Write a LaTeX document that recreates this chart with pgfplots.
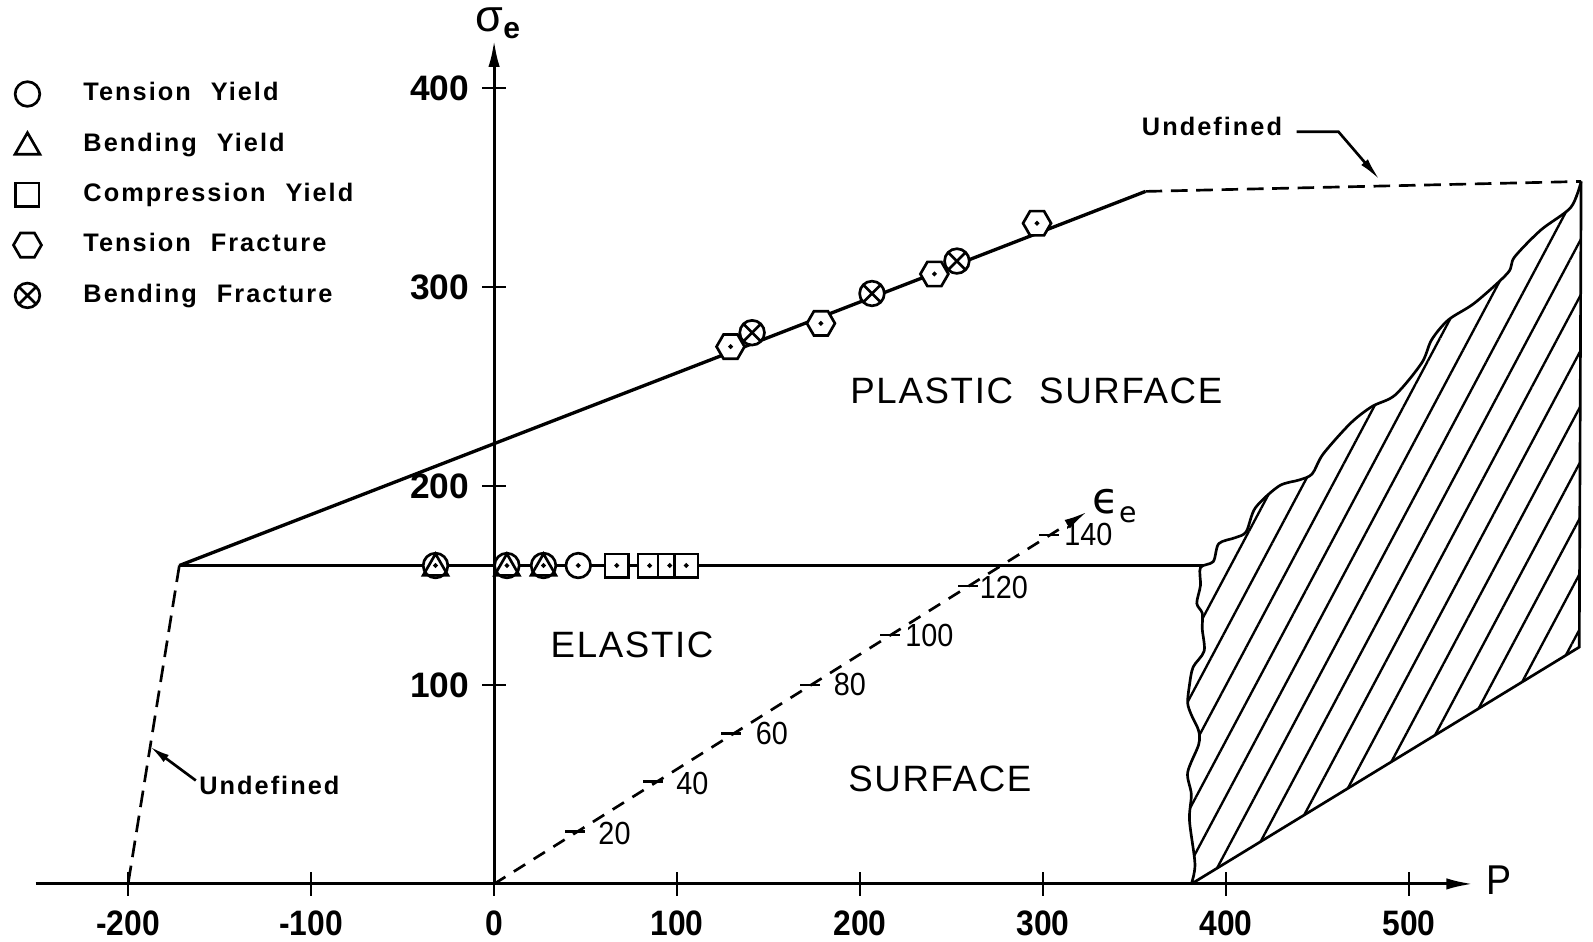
\documentclass[border=0pt]{standalone}
\usepackage{pgfplots}
\pgfplotsset{compat=1.18}
\usepackage{fontspec}
\setmainfont{Liberation Sans}
\newfontfamily\tickfont{Liberation Sans}[FakeStretch=0.9]
\newfontfamily\numfont{Liberation Sans}[FakeStretch=0.9]
\newfontfamily\labfont{Liberation Sans}[LetterSpace=8, WordSpace=2.2]
\newfontfamily\regfont{Liberation Sans}[LetterSpace=4.5, WordSpace=2.2]
\newfontfamily\dejavu{DejaVu Sans}
\usetikzlibrary{arrows.meta, patterns.meta, plotmarks}
\pgfdeclareplotmark{hexagon*}{%
  \pgfpathmoveto{\pgfpointpolar{0}{\pgfplotmarksize}}%
  \pgfpathlineto{\pgfpointpolar{60}{\pgfplotmarksize}}%
  \pgfpathlineto{\pgfpointpolar{120}{\pgfplotmarksize}}%
  \pgfpathlineto{\pgfpointpolar{180}{\pgfplotmarksize}}%
  \pgfpathlineto{\pgfpointpolar{240}{\pgfplotmarksize}}%
  \pgfpathlineto{\pgfpointpolar{300}{\pgfplotmarksize}}%
  \pgfpathclose
  \pgfusepathqfillstroke}
\tikzset{snum/.style={font=\numfont\fontsize{9.6}{11}\selectfont}}
\begin{document}
\begin{tikzpicture}
\begin{axis}[
  x=0.549pt, y=0.597pt,
  xmin=-250.5, xmax=535, ymin=0, ymax=424,
  axis lines=center, clip=false,
  axis line style={line width=0.9pt, -{Latex[length=8pt,width=3.4pt]}},
  xtick={-200,-100,0,100,200,300,400,500},
  xticklabels={-200,-100,0,100,200,300,400,500},
  ytick={100,200,300,400},
  yticklabels={100,200,300,400},
  hide obscured x ticks=false,
  tick align=center,
  major tick length=7pt,
  tick style={line width=0.8pt, black},
  xticklabel style={font=\tickfont\bfseries\fontsize{10.6}{12}\selectfont, yshift=-0.9pt},
  yticklabel style={font=\bfseries\fontsize{10.6}{12}\selectfont, xshift=-0.5pt},
  legend style={at={(axis cs:-263,406.5)}, anchor=north west, draw=none, fill=none,
    inner sep=0pt, row sep=4.1pt,
    font=\labfont\bfseries\fontsize{7.6}{9}\selectfont,
    /tikz/every odd column/.append style={column sep=10.6pt}},
  legend cell align=left,
]
% boundary lines
\addplot[line width=1pt, forget plot] coordinates {(-172,160) (356,348)};
\addplot[line width=0.8pt, forget plot] coordinates {(-172,160) (388,160)};
\addplot[line width=0.8pt, dash pattern=on 5pt off 2.6pt, forget plot] coordinates {(-172,160) (-200,0)};
\addplot[line width=0.8pt, dash pattern=on 5pt off 2.6pt, forget plot] coordinates {(356,348) (594,353)};
% strain line
\addplot[line width=0.8pt, dash pattern=on 4pt off 3pt, -{Latex[length=7pt,width=3pt]}, forget plot] coordinates {(0,0) (324,187)};
\addplot[only marks, mark=-, mark size=3pt, mark options={line width=0.8pt, solid}, forget plot] coordinates {
 (44,26.3) (86.6,51.4) (129.2,75.7) (172.7,100) (216.1,125.1) (258.7,149.7) (303,175.4)};
% hatched region
\addplot[draw=none, pattern={Lines[angle=62,distance=7.8pt,line width=0.7pt]}, forget plot] coordinates {
 (381,0) (593,119) (594,353) (588.4,340) (572,328.6) (557.6,315) (553.9,307) (535.9,292) (521.4,283.4)
 (512.3,273.4) (506.9,261.8) (492.4,245.7) (479.7,239.9) (468,231.5) (453,216) (447,206) (440,203)
 (429,200) (416,189) (411,177) (405,174) (396,171) (393,162) (386,159) (386,150) (384,141) (387,136)
 (387,128) (388,117) (382,109) (380,100) (379,91) (381,85) (385,77) (385,70) (379,56) (381,45)
 (380,32) (383,10)} -- cycle;
\addplot[line width=0.8pt, forget plot] coordinates {(381,0) (593,119) (594,353)};
\addplot[line width=0.8pt, smooth, tension=0.5, forget plot] coordinates {
 (381,0) (383,10) (380,32) (381,45) (379,56) (385,70) (385,77) (381,85) (379,91) (380,100) (382,109)
 (388,117) (387,128) (387,136) (384,141) (386,150) (386,159) (393,162) (396,171) (405,174) (411,177)
 (416,189) (429,200) (440,203) (447,206) (453,216) (468,231.5) (479.7,239.9) (492.4,245.7)
 (506.9,261.8) (512.3,273.4) (521.4,283.4) (535.9,292) (553.9,307) (557.6,315) (572,328.6)
 (588.4,340) (594,353)};
% data points
\addplot[only marks, mark=*, mark size=3.7pt, mark options={fill=white, draw=black, line width=0.8pt}]
 coordinates {(-32,160) (7,160) (27,160) (46,160)};
\addlegendentry{Tension Yield}
\addplot[only marks, mark=triangle, mark size=4.3pt, mark options={draw=black, line width=0.8pt, yshift=-0.8pt}]
 coordinates {(-32,160) (7,160) (27,160)};
\addlegendentry{Bending Yield}
\addplot[only marks, mark=square*, mark size=3.5pt, mark options={fill=white, draw=black, line width=0.8pt}]
 coordinates {(67,160) (85,160) (96,160) (105,160)};
\addlegendentry{Compression Yield}
\addplot[only marks, mark=hexagon*, mark size=4.2pt, mark options={fill=white, draw=black, line width=0.8pt}]
 coordinates {(129.2,270) (178.6,281.7) (240.6,306.5) (296.7,332)};
\addlegendentry{Tension Fracture}
\addplot[only marks, mark=otimes*, mark size=3.7pt, mark options={fill=white, draw=black, line width=0.8pt}]
 coordinates {(141,277) (206.5,296.7) (252.9,313)};
\addlegendentry{Bending Fracture}
\addplot[only marks, mark=*, mark size=0.5pt, forget plot] coordinates {
 (-32,160) (7,160) (27,160) (46,160) (67,160) (85,160) (96,160) (105,160)
 (129.2,270) (178.6,281.7) (240.6,306.5) (296.7,332)};
% labels
\node[font=\fontsize{13.5}{15}\selectfont] at (axis cs:2,432.5) {σ\raisebox{-0.3ex}{\bfseries\fontsize{9}{10}\selectfont e}};
\node[font=\tickfont\fontsize{12.5}{14}\selectfont] at (axis cs:549,2) {P};
\node[font=\dejavu\fontsize{13}{15}\selectfont] at (axis cs:339,190) {ϵ\raisebox{-0.4ex}{\fontsize{8.5}{10}\selectfont e}};
\node[font=\regfont\fontsize{11}{13}\selectfont] at (axis cs:296.3,247.6) {PLASTIC SURFACE};
\node[font=\regfont\fontsize{11}{13}\selectfont] at (axis cs:75.4,120) {ELASTIC};
\node[font=\regfont\fontsize{11}{13}\selectfont] at (axis cs:243.6,52.6) {SURFACE};
\node[font=\labfont\bfseries\fontsize{7.6}{9}\selectfont] at (axis cs:-122.8,49.5) {Undefined};
\node[font=\labfont\bfseries\fontsize{7.6}{9}\selectfont] at (axis cs:392.3,380.4) {Undefined};
\draw[line width=0.8pt, -{Latex[length=6pt,width=2.6pt]}] (axis cs:-163,52) -- (axis cs:-188,69);
\draw[line width=0.8pt, -{Latex[length=7pt,width=2.6pt]}] (axis cs:438.6,378) -- (axis cs:461.4,378) -- (axis cs:484,353.8);
\node[snum] at (axis cs:65.8,25.6) {20};
\node[snum] at (axis cs:108.3,50.6) {40};
\node[snum] at (axis cs:151.8,75.7) {60};
\node[snum] at (axis cs:194.4,100) {80};
\node[snum] at (axis cs:237.9,125) {100};
\node[snum] at (axis cs:278.6,149) {120};
\node[snum] at (axis cs:324.8,175.4) {140};
\coordinate (BBsw) at (axis cs:-270,-29.1);
\coordinate (BBne) at (axis cs:600.5,444.2);
\end{axis}
\pgfresetboundingbox
\useasboundingbox (BBsw) rectangle (BBne);
\end{tikzpicture}
\end{document}
